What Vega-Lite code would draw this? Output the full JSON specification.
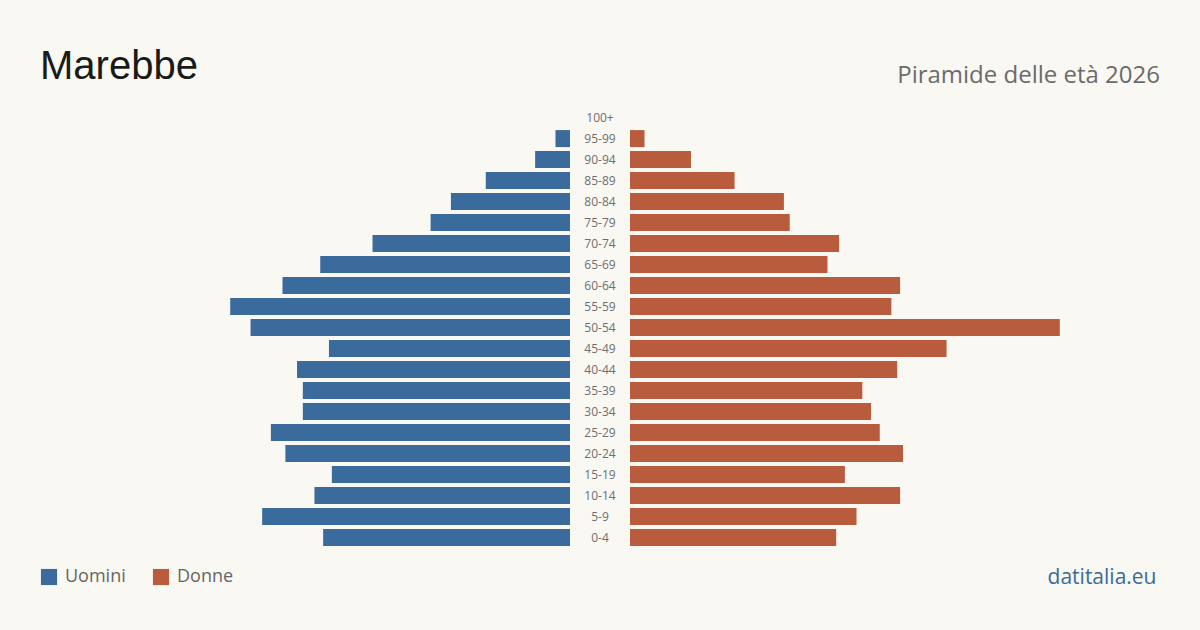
{
  "$schema": "https://vega.github.io/schema/vega-lite/v6.json",
  "background": "#f9f8f3",
  "padding": {"left": 40, "right": 40, "top": 47, "bottom": 44},
  "config": {"view": {"stroke": null}, "font": "Open Sans", "concat": {"spacing": 0}},
  "datasets": {
    "pop": [
      {"age": "100+", "ord": 20, "sex": "Uomini", "v": 0}, {"age": "100+", "ord": 20, "sex": "Donne", "v": 0},
      {"age": "95-99", "ord": 19, "sex": "Uomini", "v": 5}, {"age": "95-99", "ord": 19, "sex": "Donne", "v": 5},
      {"age": "90-94", "ord": 18, "sex": "Uomini", "v": 12}, {"age": "90-94", "ord": 18, "sex": "Donne", "v": 21},
      {"age": "85-89", "ord": 17, "sex": "Uomini", "v": 29}, {"age": "85-89", "ord": 17, "sex": "Donne", "v": 36},
      {"age": "80-84", "ord": 16, "sex": "Uomini", "v": 41}, {"age": "80-84", "ord": 16, "sex": "Donne", "v": 53},
      {"age": "75-79", "ord": 15, "sex": "Uomini", "v": 48}, {"age": "75-79", "ord": 15, "sex": "Donne", "v": 55},
      {"age": "70-74", "ord": 14, "sex": "Uomini", "v": 68}, {"age": "70-74", "ord": 14, "sex": "Donne", "v": 72},
      {"age": "65-69", "ord": 13, "sex": "Uomini", "v": 86}, {"age": "65-69", "ord": 13, "sex": "Donne", "v": 68},
      {"age": "60-64", "ord": 12, "sex": "Uomini", "v": 99}, {"age": "60-64", "ord": 12, "sex": "Donne", "v": 93},
      {"age": "55-59", "ord": 11, "sex": "Uomini", "v": 117}, {"age": "55-59", "ord": 11, "sex": "Donne", "v": 90},
      {"age": "50-54", "ord": 10, "sex": "Uomini", "v": 110}, {"age": "50-54", "ord": 10, "sex": "Donne", "v": 148},
      {"age": "45-49", "ord": 9, "sex": "Uomini", "v": 83}, {"age": "45-49", "ord": 9, "sex": "Donne", "v": 109},
      {"age": "40-44", "ord": 8, "sex": "Uomini", "v": 94}, {"age": "40-44", "ord": 8, "sex": "Donne", "v": 92},
      {"age": "35-39", "ord": 7, "sex": "Uomini", "v": 92}, {"age": "35-39", "ord": 7, "sex": "Donne", "v": 80},
      {"age": "30-34", "ord": 6, "sex": "Uomini", "v": 92}, {"age": "30-34", "ord": 6, "sex": "Donne", "v": 83},
      {"age": "25-29", "ord": 5, "sex": "Uomini", "v": 103}, {"age": "25-29", "ord": 5, "sex": "Donne", "v": 86},
      {"age": "20-24", "ord": 4, "sex": "Uomini", "v": 98}, {"age": "20-24", "ord": 4, "sex": "Donne", "v": 94},
      {"age": "15-19", "ord": 3, "sex": "Uomini", "v": 82}, {"age": "15-19", "ord": 3, "sex": "Donne", "v": 74},
      {"age": "10-14", "ord": 2, "sex": "Uomini", "v": 88}, {"age": "10-14", "ord": 2, "sex": "Donne", "v": 93},
      {"age": "5-9", "ord": 1, "sex": "Uomini", "v": 106}, {"age": "5-9", "ord": 1, "sex": "Donne", "v": 78},
      {"age": "0-4", "ord": 0, "sex": "Uomini", "v": 85}, {"age": "0-4", "ord": 0, "sex": "Donne", "v": 71}
    ]
  },
  "data": {"name": "pop"},
  "hconcat": [
    {
      "width": 530, "height": 441,
      "title": {"text": "Marebbe", "anchor": "start", "fontSize": 40, "fontWeight": "normal", "color": "#1a1a1a", "font": "Liberation Sans", "baseline": "bottom", "offset": -20},
      "transform": [{"filter": "datum.sex == 'Uomini'"}],
      "mark": {"type": "bar"},
      "encoding": {
        "y": {"field": "age", "type": "nominal", "sort": {"field": "ord", "order": "descending"}, "axis": null, "scale": {"paddingInner": 0.19, "paddingOuter": 0.1}},
        "x": {"field": "v", "type": "quantitative", "axis": null, "scale": {"domain": [0, 182.5], "reverse": true, "nice": false}},
        "color": {"field": "sex", "type": "nominal", "scale": {"domain": ["Uomini", "Donne"], "range": ["#3a6b9c", "#b95c3d"]},
          "legend": {"orient": "none", "legendX": 0, "legendY": 461, "direction": "horizontal", "title": null, "symbolType": "square", "symbolSize": 260, "symbolStrokeWidth": 0, "symbolOpacity": 1, "labelFontSize": 18, "labelColor": "#666666", "labelFont": "Open Sans", "columnPadding": 26, "labelOffset": 7}}
      }
    },
    {
      "width": 60, "height": 441,
      "transform": [{"filter": "datum.sex == 'Uomini'"}],
      "mark": {"type": "text", "fontSize": 12, "color": "#6e6e6e", "font": "Open Sans"},
      "encoding": {
        "y": {"field": "age", "type": "nominal", "sort": {"field": "ord", "order": "descending"}, "axis": null, "scale": {"paddingInner": 0.19, "paddingOuter": 0.1}},
        "text": {"field": "age"}
      }
    },
    {
      "width": 530, "height": 441,
      "title": {"text": "Piramide delle età 2026", "anchor": "end", "fontSize": 24, "fontWeight": "normal", "color": "#6b6b6b", "font": "Open Sans", "baseline": "bottom", "offset": -5},
      "transform": [{"filter": "datum.sex == 'Donne'"}],
      "mark": {"type": "bar"},
      "encoding": {
        "y": {"field": "age", "type": "nominal", "sort": {"field": "ord", "order": "descending"}, "axis": null, "scale": {"paddingInner": 0.19, "paddingOuter": 0.1}},
        "x": {"field": "v", "type": "quantitative", "scale": {"domain": [0, 182.5], "nice": false},
          "axis": {"domain": false, "ticks": false, "labels": false, "grid": false, "title": "datitalia.eu", "titleAnchor": "end", "titleAlign": "right", "titleFontSize": 21, "titleFontWeight": "normal", "titleColor": "#3a6b9c", "titleFont": "Open Sans", "titlePadding": 18, "titleX": 526}},
        "color": {"field": "sex", "type": "nominal"}
      }
    }
  ],
  "resolve": {"scale": {"y": "independent", "x": "independent"}}
}
